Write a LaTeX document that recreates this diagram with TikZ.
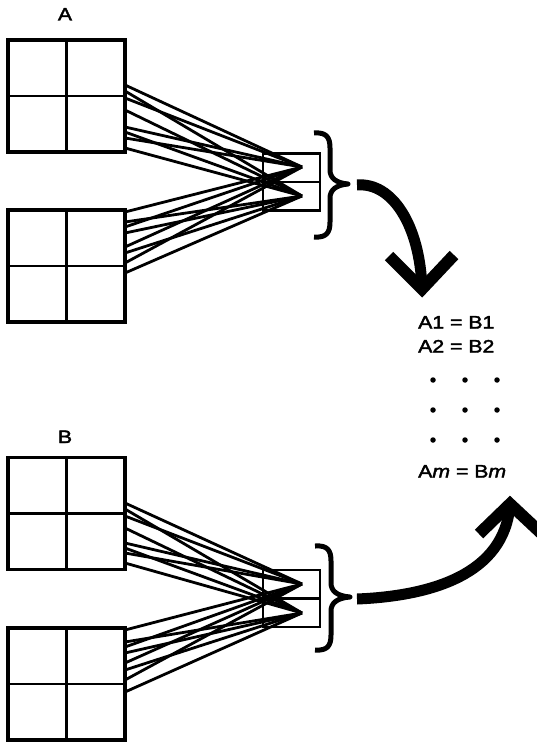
\documentclass[tikz,border=0pt]{standalone}
\usepackage{fontspec}
\newfontfamily\labelfont[FakeStretch=1.18,FakeBold=2.2]{Liberation Sans}
\usetikzlibrary{calc}
\begin{document}
\begin{tikzpicture}[x=1pt, y=-1pt,
  gridsq/.style={draw, line width=3.2pt, minimum width=117pt, minimum height=112pt, inner sep=0pt, outer sep=0pt},
  gridline/.style={line width=2.8pt},
  unitbox/.style={draw, line width=2.2pt, minimum width=57pt, minimum height=57pt, inner sep=0pt, outer sep=0pt},
  wire/.style={line width=2.8pt},
  bracket/.style={line width=5pt, line join=round},
  bigarrow/.style={line width=11pt},
  chevron/.style={line width=12pt, line join=miter},
  txt/.style={font=\labelfont\fontsize{18pt}{21pt}\selectfont, inner sep=0pt},
  dot/.style={fill, circle, inner sep=0pt, minimum size=5.5pt}]
\useasboundingbox (0,0) rectangle (537,743);

% ---------- group A ----------
\node[txt, anchor=base] (la) at (65,20.5) {A};
\node[gridsq] (g1) at (66.5,96) {};
\node[gridsq] (g2) at (66.5,266) {};
\foreach \g in {g1,g2} {
  \draw[gridline] (\g.north) -- (\g.south);
  \draw[gridline] (\g.west) -- (\g.east);
}
\node[unitbox] (u1) at (291.5,182) {};
\draw[line width=2.2pt] (u1.west) -- (u1.east);
\coordinate (u1a) at (302,167);
\coordinate (u1b) at (302,196);
\foreach \dy/\t in {11/a, 5/b, -2/a, -14/b, -31/a, -36/b, -42/a, -52/b}
  \draw[wire] ([yshift=\dy pt]g1.east) -- (u1\t);
\foreach \dy/\t in {54/a, 44/b, 39/a, 33/b, 19/a, 13/b, 3/a, -7/b}
  \draw[wire] ([yshift=\dy pt]g2.east) -- (u1\t);

% brace of group A
\coordinate (bA) at (348,184);
\draw[bracket] (314,133) .. controls (327,132) and (330,138) .. (330,148) -- (330,170)
  .. controls (330,178) and (336,183) .. (bA)
  .. controls (336,185) and (330,190) .. (330,198) -- (330,222)
  .. controls (330,232) and (327,238) .. (314,237);

% ---------- group B ----------
\node[txt, anchor=base] (lb) at (65,443) {B};
\node[gridsq] (g3) at (66.5,513.5) {};
\node[gridsq] (g4) at (66.5,684) {};
\foreach \g in {g3,g4} {
  \draw[gridline] (\g.north) -- (\g.south);
  \draw[gridline] (\g.west) -- (\g.east);
}
\node[unitbox] (u2) at (291.5,598.5) {};
\draw[line width=2.2pt] (u2.west) -- (u2.east);
\coordinate (u2a) at (302,584);
\coordinate (u2b) at (302,613);
\foreach \dy/\t in {10.5/a, 4.5/b, -2.5/a, -14.5/b, -29.5/a, -34.5/b, -39.5/a, -49.5/b}
  \draw[wire] ([yshift=\dy pt]g3.east) -- (u2\t);
\foreach \dy/\t in {54/a, 42/b, 37/a, 31/b, 21/a, 14/b, 4/a, -8/b}
  \draw[wire] ([yshift=\dy pt]g4.east) -- (u2\t);

% brace of group B
\coordinate (bB) at (350,597);
\draw[bracket] (315,546) .. controls (328,545) and (331,551) .. (331,561) -- (331,583)
  .. controls (331,591) and (337,596) .. (bB)
  .. controls (337,598) and (331,603) .. (331,611) -- (331,635)
  .. controls (331,645) and (328,651) .. (315,650);

% ---------- equalities ----------
\node[txt, anchor=base west] (e1) at (418,328.5) {A1 = B1};
\node[txt, anchor=base west] (e2) at (418,352.5) {A2 = B2};
\foreach \x in {433,465,497}
  \foreach \y in {380,410,440}
    \node[dot] at (\x,\y) {};
\node[txt, anchor=base west] (em) at (418,477.5) {A\textit{m} = B\textit{m}};

% ---------- arrows ----------
\coordinate (tA) at (422,289);
\draw[bigarrow] (357,185) .. controls (392,182) and (420,225) .. (tA);
\draw[chevron] (389,256) -- (tA) -- (454,255);

\coordinate (tB) at (510,504);
\draw[bigarrow] (357,599) .. controls (430,596) and (505,575) .. (tB);
\draw[chevron] (479,534) -- (tB) -- (541,533);
\end{tikzpicture}
\end{document}
